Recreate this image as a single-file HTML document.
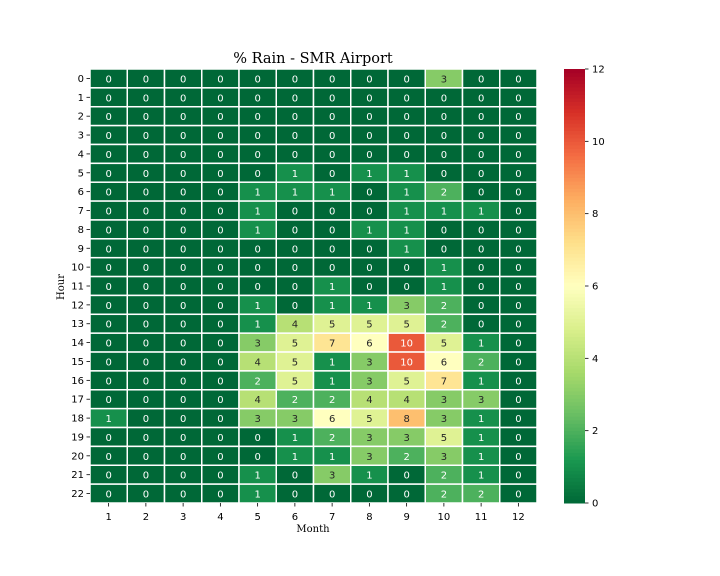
<!DOCTYPE html>
<html><head><meta charset="utf-8"><style>
body{margin:0;background:#fff;}
svg{display:block;font-family:"DejaVu Sans","Liberation Sans",sans-serif;}
</style></head><body>
<svg id="c" width="720" height="576">
<text x="313" y="63" text-anchor="middle" font-family="DejaVu Serif, serif" font-size="14.5">% Rain - SMR Airport</text>
<text x="313" y="532" text-anchor="middle" font-family="DejaVu Serif, serif" font-size="10">Month</text>
<text transform="translate(64,287) rotate(-90)" text-anchor="middle" font-family="DejaVu Serif, serif" font-size="10">Hour</text>
<g id="cells"></g><g id="axes"></g><g id="cbar"></g>
</svg>
<script>
const months=[1,2,3,4,5,6,7,8,9,10,11,12];
const hours=[0,1,2,3,4,5,6,7,8,9,10,11,12,13,14,15,16,17,18,19,20,21,22];
const values=[
[0,0,0,0,0,0,0,0,0,3,0,0],
[0,0,0,0,0,0,0,0,0,0,0,0],
[0,0,0,0,0,0,0,0,0,0,0,0],
[0,0,0,0,0,0,0,0,0,0,0,0],
[0,0,0,0,0,0,0,0,0,0,0,0],
[0,0,0,0,0,1,0,1,1,0,0,0],
[0,0,0,0,1,1,1,0,1,2,0,0],
[0,0,0,0,1,0,0,0,1,1,1,0],
[0,0,0,0,1,0,0,1,1,0,0,0],
[0,0,0,0,0,0,0,0,1,0,0,0],
[0,0,0,0,0,0,0,0,0,1,0,0],
[0,0,0,0,0,0,1,0,0,1,0,0],
[0,0,0,0,1,0,1,1,3,2,0,0],
[0,0,0,0,1,4,5,5,5,2,0,0],
[0,0,0,0,3,5,7,6,10,5,1,0],
[0,0,0,0,4,5,1,3,10,6,2,0],
[0,0,0,0,2,5,1,3,5,7,1,0],
[0,0,0,0,4,2,2,4,4,3,3,0],
[1,0,0,0,3,3,6,5,8,3,1,0],
[0,0,0,0,0,1,2,3,3,5,1,0],
[0,0,0,0,0,1,1,3,2,3,1,0],
[0,0,0,0,1,0,3,1,0,2,1,0],
[0,0,0,0,1,0,0,0,0,2,2,0]];
const cbTicks=[0,2,4,6,8,10,12];
const vmin=0,vmax=12;
const X0=90,X1=537,Y0=69,Y1=503;
const cw=(X1-X0)/months.length,ch=(Y1-Y0)/hours.length;
const xPos=i=>X0+i*cw, yPos=j=>Y0+j*ch;
const stops=["#006837","#1a9850","#66bd63","#a6d96a","#d9ef8b","#ffffbf","#fee08b","#fdae61","#f46d43","#d73027","#a50026"];
function hex(h){return [1,3,5].map(k=>parseInt(h.substr(k,2),16));}
function cmap(v){let t=Math.max(0,Math.min(1,(v-vmin)/(vmax-vmin)))*(stops.length-1);let i=Math.min(Math.floor(t),stops.length-2),f=t-i;const a=hex(stops[i]),b=hex(stops[i+1]);return a.map((x,k)=>Math.round(x+(b[k]-x)*f));}
function lum(c){const l=c.map(x=>{x/=255;return x<=0.03928?x/12.92:Math.pow((x+0.055)/1.055,2.4)});return 0.2126*l[0]+0.7152*l[1]+0.0722*l[2];}
const NS="http://www.w3.org/2000/svg";
function mk(t,a,p){const e=document.createElementNS(NS,t);for(const k in a)e.setAttribute(k,a[k]);p.appendChild(e);return e;}
const G=document.getElementById('cells'),A=document.getElementById('axes'),C=document.getElementById('cbar');
values.forEach((row,j)=>row.forEach((v,i)=>{
 const c=cmap(v);
 const r=mk('rect',{x:xPos(i),y:yPos(j),width:cw,height:ch,fill:`rgb(${c})`,stroke:'#fff','stroke-width':1.5},G);
 
 
 const t=mk('text',{x:xPos(i)+cw/2,y:yPos(j)+ch/2+4,'text-anchor':'middle','font-size':10,fill:lum(c)>0.408?'#262626':'#ffffff'},G);
 t.textContent=v;
 
 
}));
months.forEach((m,i)=>{
 const x=xPos(i)+cw/2;
 mk('line',{x1:x,x2:x,y1:Y1,y2:Y1+3.5,stroke:'#000','stroke-width':0.8},A);
 const t=mk('text',{x:x,y:Y1+17,'text-anchor':'middle','font-size':10},A);t.textContent=m;
 
 
});
hours.forEach((h,j)=>{
 const y=yPos(j)+ch/2;
 mk('line',{x1:X0-3.5,x2:X0,y1:y,y2:y,stroke:'#000','stroke-width':0.8},A);
 const t=mk('text',{x:X0-6,y:y+3.5,'text-anchor':'end','font-size':10},A);t.textContent=h;
 
 
});
const CX=564,CW=21,N=120;
for(let k=0;k<N;k++){const v=vmin+(k+0.5)/N*(vmax-vmin);const y=Y1-(k+1)*(Y1-Y0)/N;
 mk('rect',{x:CX,y:y,width:CW,height:(Y1-Y0)/N+0.5,fill:`rgb(${cmap(v)})`},C);}
const cyPos=v=>Y1-(v-vmin)/(vmax-vmin)*(Y1-Y0);
cbTicks.forEach(v=>{const y=cyPos(v);
 mk('line',{x1:CX+CW,x2:CX+CW+3.5,y1:y,y2:y,stroke:'#000','stroke-width':0.8},C);
 const t=mk('text',{x:CX+CW+7,y:y+3.5,'font-size':10},C);t.textContent=v;
 
 
});


</script>
</body></html>
